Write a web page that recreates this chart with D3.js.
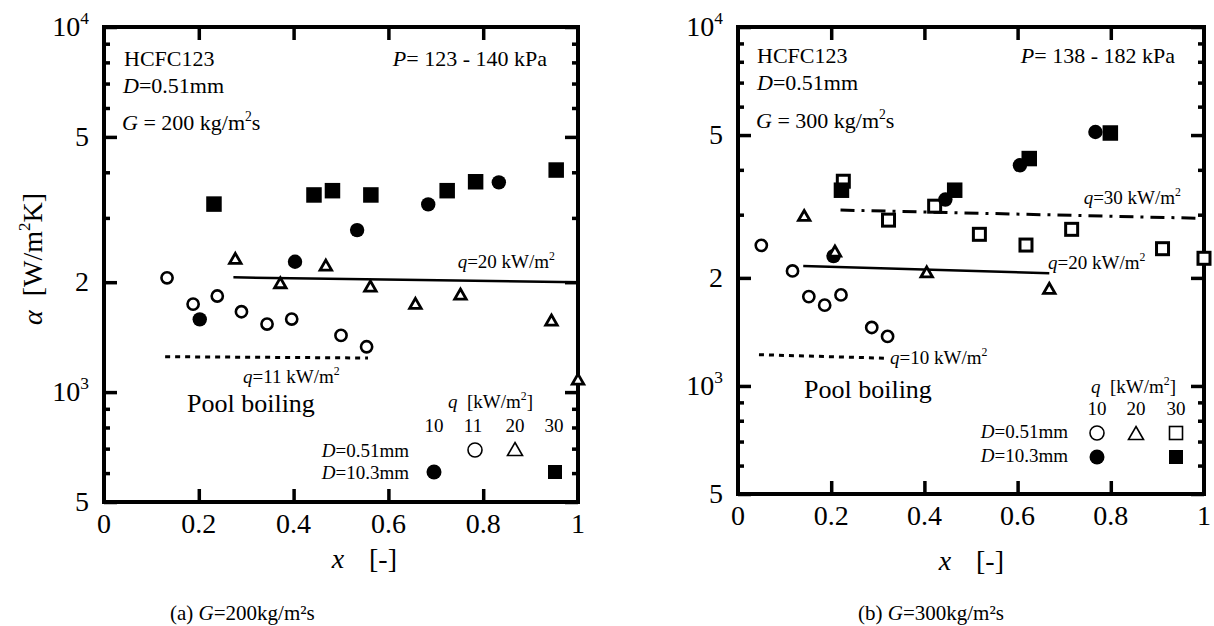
<!DOCTYPE html>
<html>
<head>
<meta charset="utf-8">
<script src="https://cdn.jsdelivr.net/npm/d3@7"></script>
<style>
  body { margin: 0; background: #fff; }
  svg text { font-family: "Liberation Serif", "Times New Roman", serif; fill: #000; }
</style>
</head>
<body>
<svg id="chart" width="1214" height="626" font-family="Liberation Serif, serif"></svg>
<script>
// ---- axes ----
var xTicks = [0, 0.2, 0.4, 0.6, 0.8, 1];
var xTickLabels = ["0", "0.2", "0.4", "0.6", "0.8", "1"];
var yMajor = [500, 1000, 2000, 5000, 10000];
var yMajorLabels = [[["5"]], [["10"], ["3", "s"]], [["2"]], [["5"]], [["10"], ["4", "s"]]];
var yMinor = [600, 700, 800, 900, 3000, 4000, 6000, 7000, 8000, 9000];

// ---- (a) G = 200 kg/m2s ----
var aOpenCircleX = [0.133, 0.188, 0.239, 0.290, 0.344, 0.396, 0.500, 0.554];   // D=0.51, q=11
var aOpenCircleY = [2056, 1742, 1833, 1660, 1536, 1585, 1430, 1331];
var aTriangleX = [0.277, 0.372, 0.468, 0.562, 0.657, 0.752, 0.944, 1.0];        // D=0.51, q=20
var aTriangleY = [2324, 1993, 2228, 1952, 1750, 1856, 1575, 1085];
var aFillCircleX = [0.202, 0.403, 0.534, 0.684, 0.833];                         // D=10.3, q=10
var aFillCircleY = [1582, 2275, 2778, 3267, 3754];
var aFillSquareX = [0.232, 0.443, 0.482, 0.563, 0.724, 0.784, 0.954];           // D=10.3, q=30
var aFillSquareY = [3273, 3467, 3562, 3467, 3562, 3768, 4057];
var aPool20X = [0.273, 0.63, 1.0];
var aPool20Y = [2062, 2030, 2000];
var aPool11X = [0.129, 0.557];
var aPool11Y = [1250, 1240];

// ---- (b) G = 300 kg/m2s ----
var bOpenCircleX = [0.050, 0.117, 0.152, 0.186, 0.221, 0.287, 0.321];          // D=0.51, q=10
var bOpenCircleY = [2464, 2091, 1774, 1679, 1793, 1455, 1374];
var bTriangleX = [0.142, 0.208, 0.405, 0.668];                                  // D=0.51, q=20
var bTriangleY = [2985, 2376, 2078, 1871];
var bOpenSquareX = [0.226, 0.323, 0.422, 0.518, 0.618, 0.716, 0.911, 1.0];      // D=0.51, q=30
var bOpenSquareY = [3718, 2897, 3168, 2645, 2469, 2731, 2412, 2268];
var bFillCircleX = [0.205, 0.445, 0.605, 0.767];                                // D=10.3, q=10
var bFillCircleY = [2300, 3306, 4118, 5099];
var bFillSquareX = [0.222, 0.465, 0.625, 0.799];                                // D=10.3, q=30
var bFillSquareY = [3510, 3510, 4300, 5066];
var bPool30X = [0.220, 1.0];
var bPool30Y = [3090, 2930];
var bPool20X = [0.140, 0.668];
var bPool20Y = [2158, 2060];
var bPool10X = [0.045, 0.323];
var bPool10Y = [1222, 1194];

var svg = d3.select("#chart");

function zip(xs, ys) {
  return xs.map(function(d, i) { return [d, ys[i]]; });
}

// text made of parts: [string, flags] flags: "i" italic, "s" superscript
function rich(g, x, y, parts, size, anchor) {
  var t = g.append("text")
    .attr("x", x).attr("y", y)
    .attr("font-family", "Liberation Serif, serif")
    .style("font-size", size + "px")
    .style("white-space", "pre")
    .attr("text-anchor", anchor || "start");
  var raised = false;
  parts.forEach(function(p) {
    var flags = p[1] || "";
    var sp = t.append("tspan").text(p[0]);
    if (flags.indexOf("i") >= 0) sp.style("font-style", "italic");
    if (flags.indexOf("s") >= 0) {
      sp.style("font-size", (size * 0.62) + "px").attr("dy", -size * 0.42);
      raised = true;
    } else if (raised) {
      sp.attr("dy", size * 0.42);
      raised = false;
    }
  });
  return t;
}

function marker(g, type, cx, cy, big) {
  var sw = big ? 1.6 : 2.6;
  if (type == "oc") {
    g.append("circle").attr("cx", cx).attr("cy", cy).attr("r", big ? 7 : 5.6)
      .attr("fill", "#fff").attr("stroke", "#000").attr("stroke-width", sw);
  } else if (type == "fc") {
    g.append("circle").attr("cx", cx).attr("cy", cy).attr("r", big ? 7.5 : 7.2)
      .attr("fill", "#000");
  } else if (type == "fs") {
    var s = big ? 14 : 15.5;
    g.append("rect").attr("x", cx - s / 2).attr("y", cy - s / 2)
      .attr("width", s).attr("height", s).attr("fill", "#000");
  } else if (type == "os") {
    var s2 = big ? 13 : 12;
    g.append("rect").attr("x", cx - s2 / 2).attr("y", cy - s2 / 2)
      .attr("width", s2).attr("height", s2).attr("fill", "#fff")
      .attr("stroke", "#000").attr("stroke-width", big ? 1.6 : 3);
  } else if (type == "tr") {
    var w = big ? 15 : 11.5, h = big ? 13 : 10;
    g.append("path")
      .attr("d", "M" + cx + "," + (cy - h / 2) + "L" + (cx + w / 2) + "," + (cy + h / 2) +
        "L" + (cx - w / 2) + "," + (cy + h / 2) + "Z")
      .attr("fill", "#fff").attr("stroke", "#000")
      .attr("stroke-width", big ? 1.6 : 2.8).attr("stroke-linejoin", "miter");
  }
}

function panel(box) {
  var g = svg.append("g");
  var x = d3.scaleLinear().domain([0, 1]).range([box.x0, box.x1]);
  var y = d3.scaleLog().domain([500, 10000]).range([box.y1, box.y0]);

  function tickAxis(axis, tx, ty) {
    var a = g.append("g").attr("transform", "translate(" + tx + "," + ty + ")").call(axis);
    a.select(".domain").remove();
    a.selectAll("line").attr("stroke-width", 3.5);
    a.selectAll("text").remove();
    return a;
  }
  tickAxis(d3.axisLeft(y).tickValues(yMajor).tickSize(-13), box.x0, 0);
  tickAxis(d3.axisLeft(y).tickValues(yMinor).tickSize(-6), box.x0, 0);
  tickAxis(d3.axisRight(y).tickValues(yMajor).tickSize(-13), box.x1, 0);
  tickAxis(d3.axisRight(y).tickValues(yMinor).tickSize(-6), box.x1, 0);
  tickAxis(d3.axisBottom(x).tickValues(xTicks.slice(1, 5)).tickSize(-13), 0, box.y1);
  tickAxis(d3.axisTop(x).tickValues(xTicks.slice(1, 5)).tickSize(-13), 0, box.y0);

  g.append("rect")
    .attr("x", box.x0).attr("y", box.y0)
    .attr("width", box.x1 - box.x0).attr("height", box.y1 - box.y0)
    .attr("fill", "none").attr("stroke", "#000").attr("stroke-width", 4);

  // tick labels
  xTicks.forEach(function(v, i) {
    rich(g, x(v), box.y1 + 31, [[xTickLabels[i]]], 28, "middle");
  });
  yMajor.forEach(function(v, i) {
    rich(g, box.x0 - 15, y(v) + 9, yMajorLabels[i], 28, "end");
  });

  return { g: g, x: x, y: y };
}

function drawLine(p, xs, ys, dash, w) {
  var line = d3.line().x(function(d) { return p.x(d[0]); }).y(function(d) { return p.y(d[1]); });
  p.g.append("path").datum(zip(xs, ys)).attr("d", line)
    .attr("fill", "none").attr("stroke", "#000").attr("stroke-width", w)
    .attr("stroke-dasharray", dash);
}

function drawPoints(p, type, xs, ys) {
  zip(xs, ys).forEach(function(d) { marker(p.g, type, p.x(d[0]), p.y(d[1]), false); });
}

// ================= panel (a) =================
var pa = panel({ x0: 104, x1: 578, y0: 27, y1: 502 });
drawLine(pa, aPool20X, aPool20Y, null, 2.5);
drawLine(pa, aPool11X, aPool11Y, "5,5", 3);
drawPoints(pa, "oc", aOpenCircleX, aOpenCircleY);
drawPoints(pa, "tr", aTriangleX, aTriangleY);
drawPoints(pa, "fc", aFillCircleX, aFillCircleY);
drawPoints(pa, "fs", aFillSquareX, aFillSquareY);

rich(pa.g, 124, 66, [["HCFC123"]], 22);
rich(pa.g, 123, 93, [["D", "i"], ["=0.51mm"]], 22);
rich(pa.g, 122, 130, [["G", "i"], [" = 200 kg/m"], ["2", "s"], ["s"]], 22);
rich(pa.g, 547, 66, [["P", "i"], ["= 123 - 140 kPa"]], 22, "end");
rich(pa.g, 555, 268, [["q", "i"], ["=20 kW/m"], ["2", "s"]], 19, "end");
rich(pa.g, 243, 383, [["q", "i"], ["=11 kW/m"], ["2", "s"]], 19);
rich(pa.g, 187, 412, [["Pool boiling"]], 26);
rich(pa.g, 448, 408, [["q", "i"], ["  [kW/m"], ["2", "s"], ["]"]], 19);
rich(pa.g, 434, 432, [["10"]], 19, "middle");
rich(pa.g, 473, 432, [["11"]], 19, "middle");
rich(pa.g, 515, 432, [["20"]], 19, "middle");
rich(pa.g, 554, 432, [["30"]], 19, "middle");
rich(pa.g, 409, 457, [["D", "i"], ["=0.51mm"]], 19, "end");
rich(pa.g, 409, 479, [["D", "i"], ["=10.3mm"]], 19, "end");
marker(pa.g, "oc", 475, 450, true);
marker(pa.g, "tr", 515, 449, true);
marker(pa.g, "fc", 434, 472, true);
marker(pa.g, "fs", 555, 472, true);

rich(pa.g, 338, 568, [["x", "i"]], 28, "middle");
rich(pa.g, 383, 568, [["[-]"]], 28, "middle");
rich(pa.g, 170, 620, [["(a) "], ["G", "i"], ["=200kg/m\u00b2s"]], 21);

svg.append("text")
  .attr("transform", "translate(42,259) rotate(-90)")
  .attr("text-anchor", "middle")
  .attr("font-family", "Liberation Serif, serif")
  .style("font-size", "28px")
  .style("white-space", "pre")
  .call(function(t) {
    t.append("tspan").style("font-style", "italic").text("\u03b1");
    t.append("tspan").text("  [W/m");
    t.append("tspan").style("font-size", "17px").attr("dy", -12).text("2");
    t.append("tspan").attr("dy", 12).text("K]");
  });

// ================= panel (b) =================
var pb = panel({ x0: 738, x1: 1204, y0: 27, y1: 494 });
drawLine(pb, bPool30X, bPool30Y, "14,7,3,7", 3);
drawLine(pb, bPool20X, bPool20Y, null, 2.5);
drawLine(pb, bPool10X, bPool10Y, "5,5", 3);
drawPoints(pb, "oc", bOpenCircleX, bOpenCircleY);
drawPoints(pb, "os", bOpenSquareX, bOpenSquareY);
drawPoints(pb, "fc", bFillCircleX, bFillCircleY);
drawPoints(pb, "tr", bTriangleX, bTriangleY);
drawPoints(pb, "fs", bFillSquareX, bFillSquareY);

rich(pb.g, 757, 63, [["HCFC123"]], 22);
rich(pb.g, 757, 90, [["D", "i"], ["=0.51mm"]], 22);
rich(pb.g, 756, 128, [["G", "i"], [" = 300 kg/m"], ["2", "s"], ["s"]], 22);
rich(pb.g, 1175, 63, [["P", "i"], ["= 138 - 182 kPa"]], 22, "end");
rich(pb.g, 1181, 204, [["q", "i"], ["=30 kW/m"], ["2", "s"]], 19, "end");
rich(pb.g, 1048, 269, [["q", "i"], ["=20 kW/m"], ["2", "s"]], 19);
rich(pb.g, 890, 364, [["q", "i"], ["=10 kW/m"], ["2", "s"]], 19);
rich(pb.g, 804, 398, [["Pool boiling"]], 26);
rich(pb.g, 1091, 393, [["q", "i"], ["  [kW/m"], ["2", "s"], ["]"]], 19);
rich(pb.g, 1097, 415, [["10"]], 19, "middle");
rich(pb.g, 1136, 415, [["20"]], 19, "middle");
rich(pb.g, 1176, 415, [["30"]], 19, "middle");
rich(pb.g, 1068, 438, [["D", "i"], ["=0.51mm"]], 19, "end");
rich(pb.g, 1068, 462, [["D", "i"], ["=10.3mm"]], 19, "end");
marker(pb.g, "oc", 1097, 433, true);
marker(pb.g, "tr", 1136, 433, true);
marker(pb.g, "os", 1176, 433, true);
marker(pb.g, "fc", 1097, 457, true);
marker(pb.g, "fs", 1176, 457, true);

rich(pb.g, 945, 570, [["x", "i"]], 28, "middle");
rich(pb.g, 990, 570, [["[-]"]], 28, "middle");
rich(pb.g, 858, 620, [["(b) "], ["G", "i"], ["=300kg/m\u00b2s"]], 21);
</script>
</body>
</html>
